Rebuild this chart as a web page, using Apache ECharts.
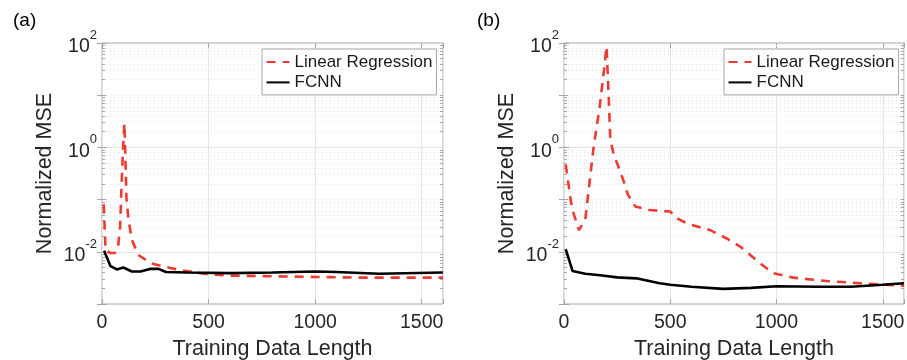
<!DOCTYPE html>
<html>
<head>
<meta charset="utf-8">
<script src="https://cdn.jsdelivr.net/npm/echarts@6/dist/echarts.min.js"></script>
<style>
html,body{margin:0;padding:0;background:#fff;}
#chart{width:907px;height:360px;}
</style>
</head>
<body>
<div id="chart"></div>
<script>
// ---- data ----
const panelA_LR_x = [8, 17, 40, 60, 75, 85, 92, 100, 105, 110, 115, 125, 140, 170, 230, 320, 380, 500, 600, 800, 1000, 1200, 1400, 1600];
const panelA_LR_y = [0.08, 0.0105, 0.0095, 0.0095, 0.012, 0.03, 0.2, 1.2, 2.9, 0.6, 0.1, 0.04, 0.017, 0.0087, 0.006, 0.0049, 0.0044, 0.0037, 0.0035, 0.0034, 0.0033, 0.0032, 0.0032, 0.0032];
const panelA_NN_x = [10, 40, 70, 100, 140, 180, 225, 265, 300, 400, 600, 800, 1000, 1100, 1300, 1600];
const panelA_NN_y = [0.0105, 0.0053, 0.0046, 0.005, 0.0042, 0.0042, 0.0047, 0.0047, 0.0041, 0.0040, 0.0039, 0.0040, 0.0042, 0.0041, 0.0038, 0.0040];

const panelB_LR_x = [8, 37, 70, 100, 139, 167, 191, 200, 210, 218, 233, 280, 300, 335, 405, 500, 531, 578, 688, 766, 829, 923, 985, 1079, 1236, 1393, 1600];
const panelB_LR_y = [0.47, 0.069, 0.026, 0.041, 0.98, 5.6, 38, 85, 10, 1.4, 0.76, 0.23, 0.126, 0.074, 0.063, 0.059, 0.044, 0.035, 0.026, 0.018, 0.0126, 0.006, 0.0039, 0.0032, 0.00275, 0.0025, 0.00224];
const panelB_NN_x = [8, 40, 100, 170, 250, 340, 450, 500, 600, 750, 880, 1000, 1200, 1350, 1500, 1600];
const panelB_NN_y = [0.0112, 0.0043, 0.0038, 0.00355, 0.00324, 0.0031, 0.0025, 0.00234, 0.00214, 0.00195, 0.00204, 0.00219, 0.00214, 0.00214, 0.00234, 0.0025];

const seriesNames = ['Linear Regression', 'FCNN'];
const panelLabels = ['(a)', '(b)'];
const xAxisName = 'Training Data Length';
const yAxisName = 'Normalized MSE';
const xMin = 0, xMax = 1600, xInterval = 500;
const yMin = 1e-3, yMax = 1e2;
const yLabelExponents = [-2, 0, 2];

// ---- helpers ----
const FONT = "'Liberation Sans', Arial, Helvetica, sans-serif";
const TXT = '#262626';
const FRAME = '#a6a6a6';
const RED = '#ef3a33';

function pairs(xs, ys){ return xs.map((x, i) => [x, ys[i]]); }

const minorVals = [];
for (let k = -3; k <= 1; k++) {
  for (let m = 1; m <= 9; m++) {
    if (m === 1 && (k === -3 || k === -2 || k === 0)) continue;
    minorVals.push(+(m * Math.pow(10, k)).toPrecision(3));
  }
}
const tickLen = 14; // in data units (~3px)
const minorMarks = [];
minorVals.forEach(v => {
  minorMarks.push({yAxis: v, lineStyle: {type: [1, 3], color: '#e4e4e4', width: 1}});
  minorMarks.push([{coord: [xMin, v], lineStyle: {type: 'solid', color: FRAME, width: 1}}, {coord: [xMin + tickLen, v]}]);
  minorMarks.push([{coord: [xMax - tickLen, v], lineStyle: {type: 'solid', color: FRAME, width: 1}}, {coord: [xMax, v]}]);
});

const grids = [
  {left: 102, top: 43, width: 341, height: 261, show: true, borderColor: FRAME, borderWidth: 1, backgroundColor: '#fff', containLabel: false, outerBoundsMode: 'none'},
  {left: 564, top: 43, width: 340, height: 261, show: true, borderColor: FRAME, borderWidth: 1, backgroundColor: '#fff', containLabel: false, outerBoundsMode: 'none'}
];

function xAxes(g){
  return [
    {type: 'value', gridIndex: g, position: 'bottom', min: xMin, max: xMax, interval: xInterval,
     axisLine: {show: false}, axisTick: {show: true, inside: true, length: 5, lineStyle: {color: FRAME}},
     axisLabel: {color: TXT, fontSize: 19.5, fontFamily: FONT, margin: 9,
       formatter: v => (v > xMax - 1 && v !== 1500) ? '' : String(v)},
     splitLine: {show: true, lineStyle: {color: '#e6e6e6', width: 1}},
     name: xAxisName, nameLocation: 'middle', nameGap: 33,
     nameTextStyle: {color: TXT, fontSize: 21.5, fontFamily: FONT}},
    {type: 'value', gridIndex: g, position: 'top', min: xMin, max: xMax, interval: xInterval,
     axisLine: {show: false}, axisTick: {show: true, inside: true, length: 5, lineStyle: {color: FRAME}},
     axisLabel: {show: false}, splitLine: {show: false}}
  ];
}
function yAxes(g){
  return [
    {type: 'log', logBase: 10, gridIndex: g, position: 'left', min: yMin, max: yMax,
     axisLine: {show: false}, axisTick: {show: true, inside: true, length: 5, lineStyle: {color: FRAME}},
     axisLabel: {margin: 5, color: TXT, fontFamily: FONT,
       formatter: function(v){
         const e = Math.round(Math.log10(v));
         if (yLabelExponents.indexOf(e) < 0) return '';
         return '{b|10}{s|' + e + '}';
       },
       rich: {
         b: {fontSize: 19.5, color: TXT, fontFamily: FONT, lineHeight: 20, verticalAlign: 'bottom'},
         s: {fontSize: 13, color: TXT, fontFamily: FONT, lineHeight: 28, verticalAlign: 'top'}
       }},
     splitLine: {show: true, lineStyle: {color: ['rgba(0,0,0,0)', '#e3e3e3', 'rgba(0,0,0,0)', '#e3e3e3', 'rgba(0,0,0,0)', 'rgba(0,0,0,0)']}},
     name: yAxisName, nameLocation: 'middle', nameGap: 46,
     nameTextStyle: {color: TXT, fontSize: 21.5, fontFamily: FONT}},
    {type: 'log', logBase: 10, gridIndex: g, position: 'right', min: yMin, max: yMax,
     axisLine: {show: false}, axisTick: {show: true, inside: true, length: 5, lineStyle: {color: FRAME}},
     axisLabel: {show: false}, splitLine: {show: false}}
  ];
}

function lrSeries(g, data){
  return {name: seriesNames[0], type: 'line', xAxisIndex: g * 2, yAxisIndex: g * 2, data: data,
    symbol: 'none', showSymbol: false, z: 3,
    lineStyle: {color: RED, width: 2.6, type: [9, 7]}, itemStyle: {color: RED}};
}
function nnSeries(g, data){
  return {name: seriesNames[1], type: 'line', xAxisIndex: g * 2, yAxisIndex: g * 2, data: data,
    symbol: 'none', showSymbol: false, z: 4,
    lineStyle: {color: '#000', width: 2.6, type: 'solid'}, itemStyle: {color: '#000'},
    markLine: {silent: true, symbol: ['none', 'none'], label: {show: false}, z: 1, animation: false,
      data: minorMarks}};
}

function legendAt(left){
  return {left: left, top: 49, orient: 'vertical', data: seriesNames,
    itemWidth: 23, itemHeight: 14, itemGap: 3.4,
    padding: [4.5, 4, 4, 3.5], borderColor: FRAME, borderWidth: 1, backgroundColor: '#fff',
    selectedMode: false,
    itemStyle: {opacity: 0, borderWidth: 0},
    textStyle: {fontSize: 17, color: '#1a1a1a', fontFamily: FONT, lineHeight: 17}};
}

const option = {
  animation: false,
  backgroundColor: '#fff',
  title: [
    {text: panelLabels[0], left: 8, top: 6, textStyle: {fontSize: 19, fontWeight: 'normal', color: '#000', fontFamily: FONT}},
    {text: panelLabels[1], left: 472, top: 6, textStyle: {fontSize: 19, fontWeight: 'normal', color: '#000', fontFamily: FONT}}
  ],
  grid: grids,
  xAxis: xAxes(0).concat(xAxes(1)),
  yAxis: yAxes(0).concat(yAxes(1)),
  legend: [legendAt(262), legendAt(724)],
  series: [
    lrSeries(0, pairs(panelA_LR_x, panelA_LR_y)),
    nnSeries(0, pairs(panelA_NN_x, panelA_NN_y)),
    lrSeries(1, pairs(panelB_LR_x, panelB_LR_y)),
    nnSeries(1, pairs(panelB_NN_x, panelB_NN_y))
  ]
};

const chart = echarts.init(document.getElementById('chart'), null, {renderer: 'canvas'});
chart.setOption(option);
</script>
</body>
</html>
